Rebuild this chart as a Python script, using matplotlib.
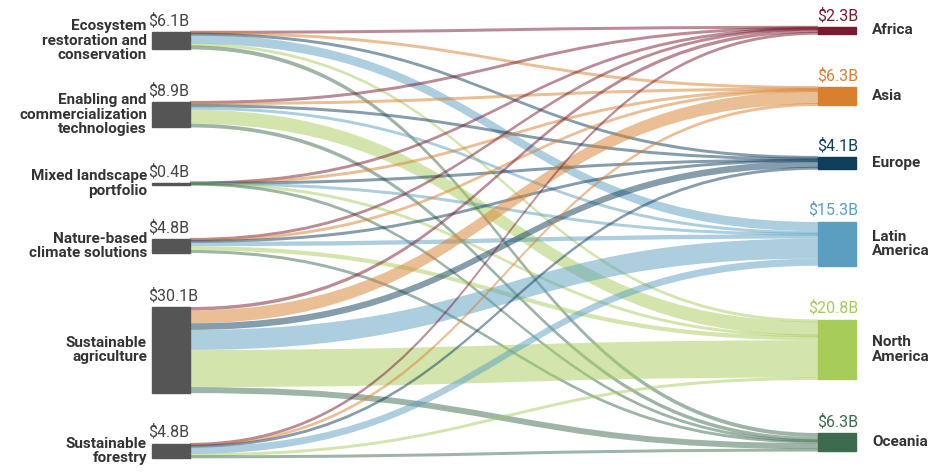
import numpy as np
import matplotlib.pyplot as plt
from matplotlib.path import Path
import matplotlib.patches as mpatches

plt.rcParams['font.family'] = ['Roboto', 'DejaVu Sans']

# sources and destinations
sources = ["Ecosystem\nrestoration and\nconservation", "Enabling and\ncommercialization\ntechnologies",
           "Mixed landscape\nportfolio", "Nature-based\nclimate solutions", "Sustainable\nagriculture",
           "Sustainable\nforestry"]
src_vals = ["$6.1B", "$8.9B", "$0.4B", "$4.8B", "$30.1B", "$4.8B"]
regions = ["Africa", "Asia", "Europe", "Latin\nAmerica", "North\nAmerica", "Oceania"]
reg_vals = ["$2.3B", "$6.3B", "$4.1B", "$15.3B", "$20.8B", "$6.3B"]
reg_colors = ["#7a1a2e", "#d9802e", "#0f3d5c", "#5b9ec0", "#a8cc5a", "#3d6b4f"]

# flows (billions), rows = sources, cols = regions (estimated)
flows = np.array([
    [0.2, 0.4, 0.3, 3.2, 0.6, 1.4],
    [0.3, 0.6, 0.8, 1.0, 4.9, 1.3],
    [0.05, 0.05, 0.05, 0.1, 0.1, 0.05],
    [0.3, 0.4, 0.3, 1.5, 1.5, 0.8],
    [1.2, 4.5, 2.3, 7.0, 13.0, 2.1],
    [0.25, 0.35, 0.35, 2.5, 0.7, 0.65],
])

scale = 2.86  # px per billion
left_top = [32, 102, 183, 239, 307, 444]
right_top = [27, 87, 157, 222, 320, 433]
xl0, xl1 = 152, 190
xr0, xr1 = 818, 856
min_h = 3.0

fig = plt.figure(figsize=(9.36, 4.74), dpi=100)
ax = fig.add_axes([0, 0, 1, 1])
ax.set_xlim(0, 936)
ax.set_ylim(474, 0)
ax.axis('off')

# right node offsets ordered by source, left by destination
dst_pos = np.zeros_like(flows)
for j in range(len(regions)):
    y = right_top[j]
    for i in range(len(sources)):
        dst_pos[i, j] = y
        y += flows[i, j] * scale
src_pos = np.zeros_like(flows)
for i in range(len(sources)):
    y = left_top[i]
    for j in range(len(regions)):
        src_pos[i, j] = y
        y += flows[i, j] * scale

xm = (xl1 + xr0) / 2
for i in range(len(sources)):
    for j in range(len(regions)):
        h = flows[i, j] * scale
        hd = max(h, min_h)
        y0 = src_pos[i, j] + h / 2 - hd / 2
        y1 = dst_pos[i, j] + h / 2 - hd / 2
        verts = [(xl1, y0), (xm, y0), (xm, y1), (xr0, y1),
                 (xr0, y1 + hd), (xm, y1 + hd), (xm, y0 + hd), (xl1, y0 + hd), (xl1, y0)]
        codes = [Path.MOVETO, Path.CURVE4, Path.CURVE4, Path.CURVE4,
                 Path.LINETO, Path.CURVE4, Path.CURVE4, Path.CURVE4, Path.CLOSEPOLY]
        ax.add_patch(mpatches.PathPatch(Path(verts, codes), fc=reg_colors[j], ec='none', alpha=0.5))

for i, name in enumerate(sources):
    h = flows[i].sum() * scale
    ax.add_patch(mpatches.Rectangle((xl0, left_top[i]), xl1 - xl0, max(h, 2), color='#555555', zorder=3))
    ax.text(147, left_top[i] + h / 2, name, ha='right', va='center', fontsize=11,
            fontweight='bold', color='#333333', linespacing=1.05)
    ax.text(xl0 - 4, left_top[i] - 4, src_vals[i], ha='left', va='bottom', fontsize=11.5, color='#444444')

for j, name in enumerate(regions):
    h = flows[:, j].sum() * scale
    ax.add_patch(mpatches.Rectangle((xr0, right_top[j]), xr1 - xr0, h, color=reg_colors[j], zorder=3))
    ax.text(xr1 + 16, right_top[j] + h / 2, name, ha='left', va='center', fontsize=11,
            fontweight='bold', color='#333333', linespacing=1.05)
    ax.text(xr1 + 2, right_top[j] - 4, reg_vals[j], ha='right', va='bottom', fontsize=11.5, color=reg_colors[j])

fig.savefig('out.png', dpi=100)
